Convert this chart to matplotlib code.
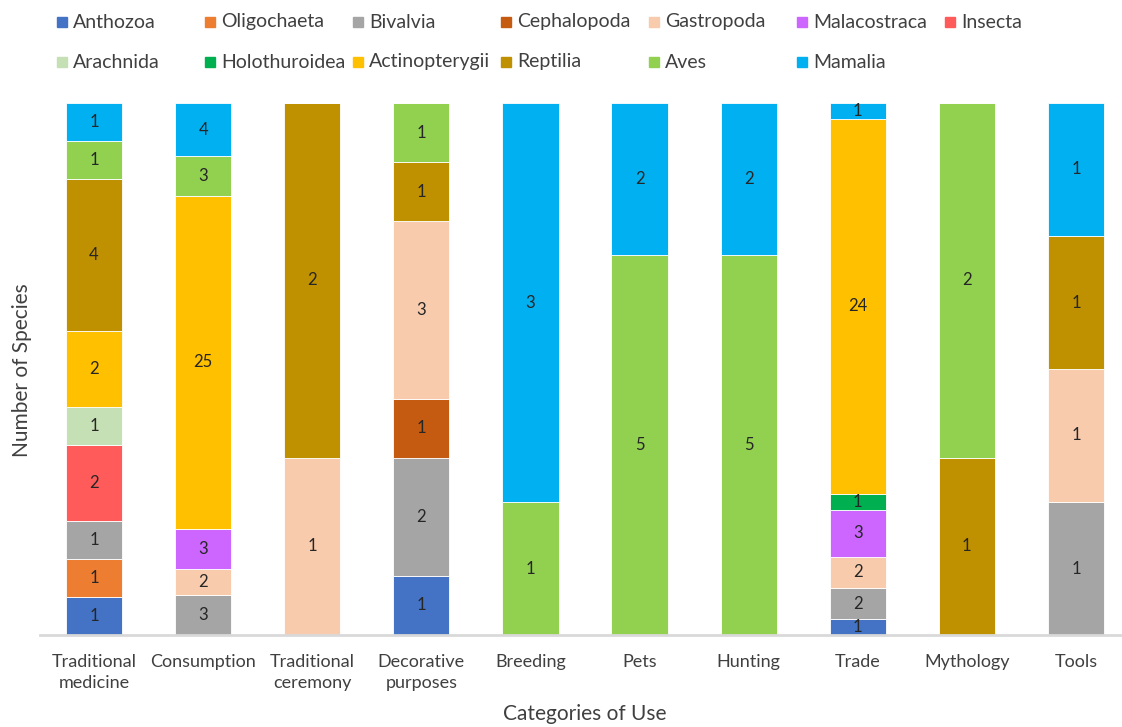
import numpy as np
import matplotlib
matplotlib.use('Agg')
import matplotlib.pyplot as plt
from matplotlib.patches import Rectangle

plt.rcParams['font.family'] = ['Lato', 'DejaVu Sans']

categories = ['Traditional\nmedicine', 'Consumption', 'Traditional\nceremony',
              'Decorative\npurposes', 'Breeding', 'Pets', 'Hunting', 'Trade',
              'Mythology', 'Tools']

# species counts per class, one value per category of use
anthozoa       = [1, 0, 0, 1, 0, 0, 0, 1, 0, 0]
oligochaeta    = [1, 0, 0, 0, 0, 0, 0, 0, 0, 0]
bivalvia       = [1, 3, 0, 2, 0, 0, 0, 2, 0, 1]
cephalopoda    = [0, 0, 0, 1, 0, 0, 0, 0, 0, 0]
gastropoda     = [0, 2, 1, 3, 0, 0, 0, 2, 0, 1]
malacostraca   = [0, 3, 0, 0, 0, 0, 0, 3, 0, 0]
insecta        = [2, 0, 0, 0, 0, 0, 0, 0, 0, 0]
arachnida      = [1, 0, 0, 0, 0, 0, 0, 0, 0, 0]
holothuroidea  = [0, 0, 0, 0, 0, 0, 0, 1, 0, 0]
actinopterygii = [2, 25, 0, 0, 0, 0, 0, 24, 0, 0]
reptilia       = [4, 0, 2, 1, 0, 0, 0, 0, 1, 1]
aves           = [1, 3, 0, 1, 1, 5, 5, 0, 2, 0]
mamalia        = [1, 4, 0, 0, 3, 2, 2, 1, 0, 1]

series = [
    ('Anthozoa', anthozoa, '#4472C4'),
    ('Oligochaeta', oligochaeta, '#ED7D31'),
    ('Bivalvia', bivalvia, '#A5A5A5'),
    ('Cephalopoda', cephalopoda, '#C55A11'),
    ('Gastropoda', gastropoda, '#F8CBAD'),
    ('Malacostraca', malacostraca, '#CC66FF'),
    ('Insecta', insecta, '#FF5B5B'),
    ('Arachnida', arachnida, '#C5E0B4'),
    ('Holothuroidea', holothuroidea, '#00B050'),
    ('Actinopterygii', actinopterygii, '#FFC000'),
    ('Reptilia', reptilia, '#BF9000'),
    ('Aves', aves, '#92D050'),
    ('Mamalia', mamalia, '#00B0F0'),
]

W, H = 1122, 727
fig = plt.figure(figsize=(W / 100, H / 100), dpi=100)
ax = fig.add_axes([39.5 / W, 1 - 635 / H, 1091 / W, 532 / H])

x = np.arange(len(categories))
totals = np.sum([s[1] for s in series], axis=0)
bottom = np.zeros(len(categories))
for name, vals, col in series:
    vals = np.array(vals, dtype=float)
    frac = vals / totals
    ax.bar(x, frac, 0.515, bottom=bottom, color=col, edgecolor='white', linewidth=0.6)
    for i in range(len(x)):
        if vals[i] > 0:
            ax.text(x[i], bottom[i] + frac[i] / 2, '%d' % vals[i], ha='center', va='center',
                    fontsize=12, color='#262626')
    bottom += frac

ax.set_xlim(-0.5, len(categories) - 0.5)
ax.set_ylim(0, 1)
ax.set_yticks([])
ax.set_xticks(x)
ax.set_xticklabels(categories, fontsize=13, color='#404040', linespacing=1.35)
ax.tick_params(axis='x', length=0, pad=14)
for sp in ['top', 'right', 'left']:
    ax.spines[sp].set_visible(False)
ax.spines['bottom'].set_color('#D9D9D9')
ax.spines['bottom'].set_linewidth(2)

fig.text(585 / W, 1 - 714 / H, 'Categories of Use', ha='center', va='center',
         fontsize=15, color='#404040')
fig.text(22 / W, 1 - 370 / H, 'Number of Species', ha='center', va='center',
         rotation=90, fontsize=15, color='#404040')

# legend in two rows, seven fixed-width columns
for k, (name, vals, col) in enumerate(series):
    row, c = divmod(k, 7)
    lx = 57 + 148 * c
    ly = 22 + 40 * row
    fig.patches.append(Rectangle((lx / W, 1 - (ly + 5) / H), 10 / W, 10 / H,
                                 transform=fig.transFigure, color=col))
    fig.text((lx + 16) / W, 1 - ly / H, name, ha='left', va='center',
             fontsize=14, color='#404040')

fig.savefig('out.png', dpi=100)
